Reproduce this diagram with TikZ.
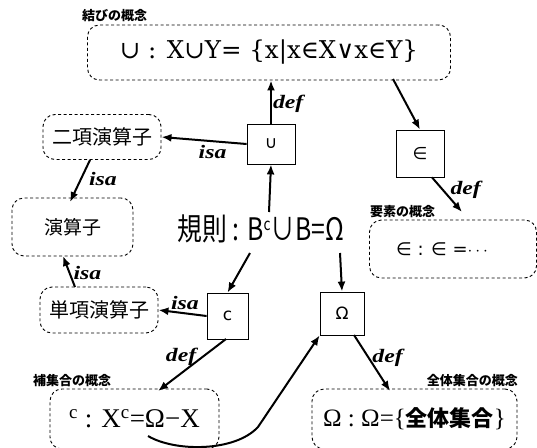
\documentclass[tikz,border=0pt]{standalone}
\usepackage{fontspec}
\setmainfont{Liberation Serif}
\newfontfamily\jp{Noto Sans CJK JP}
\newfontfamily\dv{DejaVu Sans}
\newfontfamily\dvs{DejaVu Serif}
\newfontfamily\relf{Liberation Serif}[FakeStretch=1.25]
\usetikzlibrary{arrows.meta}
\tikzset{
  concept/.style={draw, dashed, rounded corners=12pt, line width=0.9pt, dash pattern=on 3pt off 2.5pt, inner sep=0pt},
  opbox/.style={draw, line width=0.8pt, inner sep=0pt},
  arr/.style={line width=2pt, -{Latex[length=10pt,width=8pt]}},
  rel/.style={font=\relf\bfseries\itshape\fontsize{19}{19}\selectfont, inner sep=1pt},
  clabel/.style={font=\jp\bfseries\fontsize{13}{13}\selectfont, inner sep=0pt}
}
\begin{document}
\begin{tikzpicture}[x=1pt,y=-1pt]
\useasboundingbox (0,0) rectangle (537,447);
% concept boxes
\node[concept, minimum width=363pt, minimum height=55pt] (top) at (269,52.5)
  {\dvs\fontsize{24.5}{24.5}\selectfont ∪ : X∪Y= \{x|x∈X∨x∈Y\}};
\node[clabel, anchor=west] (toplab) at (82,16) {結びの概念};
\node[concept, minimum width=118pt, minimum height=45pt] (bin) at (102,137)
  {\jp\fontsize{20}{20}\selectfont 二項演算子};
\node[concept, minimum width=121pt, minimum height=58pt] (opr) at (72.5,227)
  {\jp\fontsize{19}{19}\selectfont 演算子};
\node[concept, minimum width=118pt, minimum height=46pt] (una) at (99,310)
  {\jp\fontsize{20}{20}\selectfont 単項演算子};
\node[concept, minimum width=167pt, minimum height=58pt] (elm) at (453,249)
  {\hspace*{-22pt}\dv\fontsize{18}{18}\selectfont ∈ : ∈ =$\cdots$};
\node[clabel, anchor=west] (elmlab) at (370,212) {要素の概念};
\node[concept, minimum width=169pt, minimum height=60pt] (cmp) at (134.5,419)
  {\fontsize{27}{27}\selectfont $^{\mathrm{c}}$ : X$^{\mathrm{c}}$=Ω−X};
\node[clabel, anchor=west] (cmplab) at (33,381) {補集合の概念};
\node[concept, minimum width=205pt, minimum height=60pt] (uni) at (414.5,419)
  {\fontsize{25}{25}\selectfont Ω : Ω=\{{\jp\bfseries\fontsize{22}{22}\selectfont 全体集合}\}};
\node[clabel, anchor=east] (unilab) at (518,381) {全体集合の概念};
% operator boxes
\node[opbox, minimum width=48pt, minimum height=40pt] (cup) at (271,144)
  {\dv\fontsize{17}{17}\selectfont ∪};
\node[opbox, minimum width=48pt, minimum height=47pt] (in) at (420,153.5)
  {\dv\fontsize{17}{17}\selectfont ∈};
\node[opbox, minimum width=41pt, minimum height=46pt] (c) at (227.5,316)
  {\dv\fontsize{17}{17}\selectfont c};
\node[opbox, minimum width=44pt, minimum height=43pt] (om) at (342,313.5)
  {\dv\fontsize{17}{17}\selectfont Ω};
% rule
\node[inner sep=0pt] (rule) at (261,229)
  {\jp\fontsize{31}{31}\selectfont\scalebox{0.8}[1]{規則 : B\raisebox{10pt}{\fontsize{17}{17}\selectfont c}∪B=Ω}};
\coordinate (ruleA) at (269,212);
\coordinate (ruleB) at (250,253);
\coordinate (ruleC) at (340,253);
% connectors
\draw[arr] (cup.north) -- node[rel, right, pos=0.45] {def} (top.south -| cup.north);
\draw[arr] (cup.west) -- node[rel, below, pos=0.4, yshift=-2pt] {isa} (bin.east);
\draw[arr] (393,79) coordinate (topout) -- (in.north);
\draw[arr] (in.south) ++(12,0) coordinate (inout) -- node[rel, right, pos=0.35, xshift=6pt] {def} (462,212) coordinate (elmin);
\draw[arr] (90,160) coordinate (binout) -- node[rel, right, pos=0.45, xshift=6pt] {isa} (70,202) coordinate (oprin);
\draw[arr] (75,287) coordinate (unaout) -- node[rel, right, pos=0.45, xshift=2pt] {isa} (63,256) coordinate (oprin2);
\draw[arr] (ruleA) -- (cup.south);
\draw[arr] (ruleB) -- (c.north);
\draw[arr] (ruleC) -- (om.north);
\draw[arr] (c.west) -- node[rel, above, pos=0.45, yshift=2pt] {isa} (una.east);
\draw[arr] (226,339) coordinate (cout) -- node[rel, left, pos=0.35, xshift=-4pt] {def} (158,391) coordinate (cmpin);
\draw[arr] (354,335) coordinate (omout) -- node[rel, right, pos=0.4, xshift=2pt] {def} (390,391) coordinate (uniin);
\draw[arr] (148,436) coordinate (cmpout) .. controls (175,452) and (235,452) .. (258,427) -- (om.south west);
\end{tikzpicture}
\end{document}
